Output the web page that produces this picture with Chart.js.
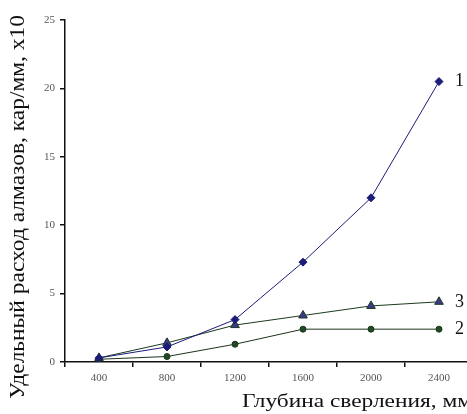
<!DOCTYPE html>
<html>
<head>
<meta charset="utf-8">
<script src="https://cdn.jsdelivr.net/npm/chart.js@4/dist/chart.umd.min.js"></script>
<style>
  html, body { margin: 0; padding: 0; background: #fff; overflow: hidden; }
</style>
</head>
<body>
<canvas id="Chart" width="480" height="414"></canvas>
<script>
// Chart x axis (drilling depth, mm)
var depths = ['400', '800', '1200', '1600', '2000', '2400'];

// Chart y axis (diamond consumption, car/mm x10)
var curve1 = [0.3, 1.1, 3.1, 7.3, 12.0, 20.5];
var curve2 = [0.2, 0.4, 1.3, 2.4, 2.4, 2.4];
var curve3 = [0.3, 1.4, 2.7, 3.4, 4.1, 4.4];
var curveNames = ['1', '2', '3'];

var yTitle = 'Удельный расход алмазов, кар/мм, x10';
var xTitle = 'Глубина сверления, мм';

// Draw stretched text so it spans a given width
function stretchText(ctx, text, width) {
  var w = ctx.measureText(text).width;
  ctx.scale(width / w, 1);
  ctx.fillText(text, 0, 0);
}

// Draw axis titles and curve numbers
var labelsPlugin = {
  id: 'labels',
  afterDraw: function(chart) {
    var ctx = chart.ctx;
    ctx.save();
    ctx.fillStyle = '#111';
    ctx.font = '20px "Liberation Serif"';
    ctx.textAlign = 'center';
    ctx.textBaseline = 'middle';
    ctx.translate(19, 207);
    ctx.rotate(-Math.PI / 2);
    stretchText(ctx, yTitle, 384);
    ctx.restore();

    ctx.save();
    ctx.fillStyle = '#111';
    ctx.font = '18px "Liberation Serif"';
    ctx.textAlign = 'left';
    ctx.textBaseline = 'middle';
    ctx.translate(242, 402);
    stretchText(ctx, xTitle, 230);
    ctx.restore();

    ctx.save();
    ctx.fillStyle = '#111';
    ctx.font = '18px "Liberation Serif"';
    ctx.textAlign = 'left';
    ctx.textBaseline = 'middle';
    chart.data.datasets.forEach(function(ds, i) {
      var pts = chart.getDatasetMeta(i).data;
      var p = pts[pts.length - 1];
      ctx.fillText(curveNames[i], p.x + 16, p.y);
    });
    ctx.restore();
  }
};

var chart = document.getElementById('Chart');
var myChart = new Chart(chart, {
  type: 'line',
  data: {
    labels: depths,
    datasets: [
      {
        label: '1',
        data: curve1,
        borderColor: '#1c1c78',
        backgroundColor: '#1c1c78',
        borderWidth: 1,
        pointStyle: 'rectRot',
        pointRadius: 4,
        tension: 0
      }, {
        label: '2',
        data: curve2,
        borderColor: '#1d331d',
        backgroundColor: '#1f4a22',
        borderWidth: 1,
        pointStyle: 'circle',
        pointRadius: 3,
        tension: 0
      }, {
        label: '3',
        data: curve3,
        borderColor: '#1b3a1f',
        backgroundColor: '#3a3a88',
        borderWidth: 1,
        pointStyle: 'triangle',
        pointRadius: 5,
        tension: 0
      }
    ]
  },
  options: {
    responsive: false,
    animation: false,
    layout: { padding: { top: 20, right: 7, left: 0, bottom: 0 } },
    plugins: {
      legend: { display: false },
      tooltip: { enabled: false }
    },
    scales: {
      x: {
        type: 'category',
        offset: true,
        afterFit: function(scale) { scale.height = 52; },
        grid: {
          offset: true,
          drawOnChartArea: false,
          tickLength: 5,
          color: '#111',
          lineWidth: 1.5
        },
        border: { color: '#111', width: 1.5 },
        ticks: {
          color: '#555',
          font: { family: 'Liberation Serif', size: 11 },
          padding: 5,
          maxRotation: 0
        }
      },
      y: {
        min: 0,
        max: 25,
        afterFit: function(scale) { scale.width = 65; },
        grid: {
          drawOnChartArea: false,
          tickLength: 5,
          color: '#111',
          lineWidth: 1.5
        },
        border: { color: '#111', width: 1.5 },
        ticks: {
          stepSize: 5,
          color: '#555',
          font: { family: 'Liberation Serif', size: 11 },
          padding: 5
        }
      }
    }
  },
  plugins: [labelsPlugin]
});
</script>
</body>
</html>
